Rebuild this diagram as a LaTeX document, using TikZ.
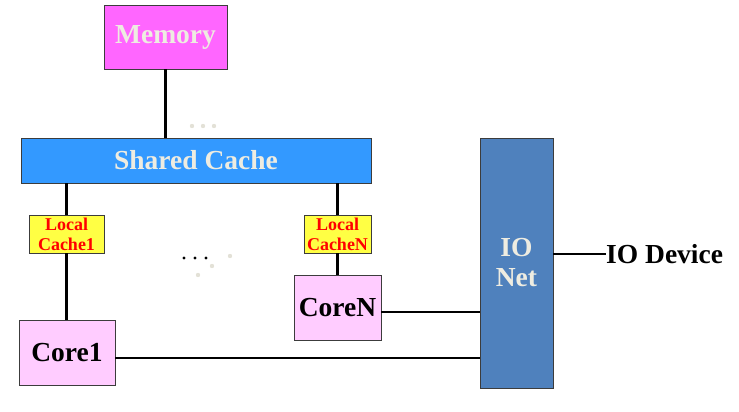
\documentclass[tikz,border=0pt]{standalone}
\usepackage{fontspec}
\setmainfont{Liberation Serif}
\usepackage{tikz}

\definecolor{memfill}{RGB}{255,102,255}
\definecolor{scfill}{RGB}{51,153,255}
\definecolor{lcfill}{RGB}{255,255,68}
\definecolor{corefill}{RGB}{255,204,255}
\definecolor{iofill}{RGB}{79,129,189}
\definecolor{lighttxt}{RGB}{238,236,225}
\definecolor{edgegray}{RGB}{60,60,60}

\begin{document}
\begin{tikzpicture}[x=1pt, y=-1pt,
  unit/.style={rectangle, draw=edgegray, line width=0.9pt, inner sep=0pt,
               font=\fontsize{27.5}{31}\selectfont\bfseries},
  mem/.style={unit, fill=memfill, text=lighttxt, minimum width=123pt, minimum height=64pt},
  shc/.style={unit, fill=scfill, text=lighttxt, minimum width=350pt, minimum height=45pt},
  lcache/.style={unit, fill=lcfill, text=red, align=center,
                 font=\fontsize{18}{20}\selectfont\bfseries, minimum height=38pt},
  core/.style={unit, fill=corefill, text=black},
  ionet/.style={unit, fill=iofill, text=lighttxt, align=center,
                font=\fontsize{27.5}{30}\selectfont\bfseries,
                minimum width=73pt, minimum height=250pt},
  lk/.style={-, line width=2.8pt, black}]

\useasboundingbox (0,0) rectangle (739,412);

%% memory and shared cache
\node[mem] (mem) at (165.5,37) {Memory};
\node[shc] (sc)  at (196,160.5) {Shared Cache};
\draw[lk] (mem.south) -- (mem.south |- sc.north);
\foreach \px in {192,203,214}
  \fill[lighttxt!90!gray] (\px,126) circle (2.2pt);

%% local caches and cores
\node[lcache, minimum width=75pt] (lc1) at (66.5,234) {Local\\Cache1};
\node[lcache, minimum width=67pt] (lcn) at (337.5,234) {Local\\CacheN};
\node[core, minimum width=96pt, minimum height=65pt] (core1) at (67,352.5) {Core1};
\node[core, minimum width=87pt, minimum height=65pt] (coren) at (337.5,307.5) {CoreN};
\draw[lk] (lc1.north |- sc.south) -- (lc1.north);
\draw[lk] (lcn.north |- sc.south) -- (lcn.north);
\draw[lk] (lc1.south) -- (lc1.south |- core1.north);
\draw[lk] (lcn.south) -- (lcn.south |- coren.north);
\foreach \px in {184,195,206}
  \fill[black] (\px,258) circle (1.6pt);
\fill[lighttxt!90!gray] (230,256) circle (2.2pt);
\fill[lighttxt!90!gray] (212,266) circle (2.2pt);
\fill[lighttxt!90!gray] (198,275) circle (2.2pt);

%% io network
\node[ionet] (io) at (516.5,263) {IO\\Net};
\node[font=\fontsize{27.5}{31}\selectfont\bfseries, anchor=west, inner sep=0pt] (dev) at (606,254) {IO Device};
\draw[lk] (coren.east |- 0,312) -- (io.west |- 0,312);
\draw[lk] (core1.east |- 0,358) -- (io.west |- 0,358);
\draw[lk] (io.east |- dev.west) -- (dev.west);
\end{tikzpicture}
\end{document}
